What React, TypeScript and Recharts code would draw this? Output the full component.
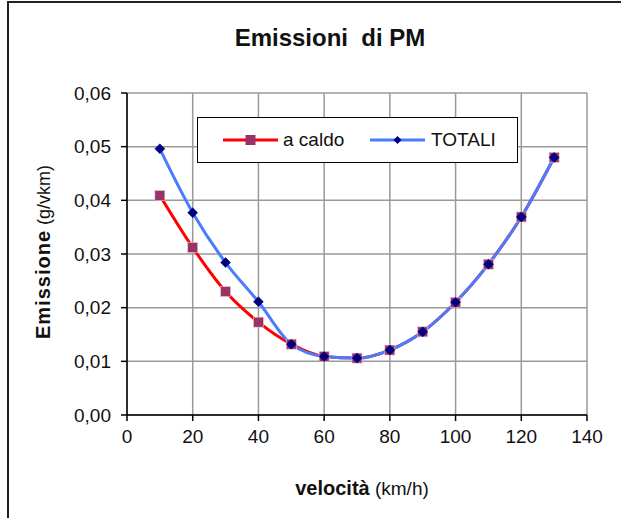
import React from "react";
import { LineChart, Line, XAxis, YAxis, CartesianGrid, Legend } from "recharts";

const speeds = [10, 20, 30, 40, 50, 60, 70, 80, 90, 100, 110, 120, 130];
const aCaldo = [0.0409, 0.0312, 0.023, 0.0173, 0.0132, 0.0109, 0.0106, 0.0121, 0.0155, 0.021, 0.0281, 0.0369, 0.048];
const totali = [0.0496, 0.0377, 0.0284, 0.0211, 0.0132, 0.0109, 0.0106, 0.0121, 0.0155, 0.021, 0.0281, 0.0369, 0.048];
const xTicks = [0, 20, 40, 60, 80, 100, 120, 140];
const yTicks = [0, 0.01, 0.02, 0.03, 0.04, 0.05, 0.06];
const seriesNames = ["a caldo", "TOTALI"];
const titleText = "Emissioni  di PM";
const xTitle = ["velocità", " (km/h)"];
const yTitle = ["Emissione", " (g/vkm)"];

const data = speeds.map((s, i) => ({ v: s, caldo: aCaldo[i], totali: totali[i] }));

const FONT = "'Liberation Sans', Arial, sans-serif";
const RED = "#ff0000";
const PURPLE = "#993366";
const BLUE = "#4a7cff";
const NAVY = "#000080";

const fmt = (v: number) => v.toFixed(2).replace(".", ",");

const SquareDot = (props: any) => {
  const { cx, cy } = props;
  if (cx == null || cy == null) return null;
  return <rect x={cx - 5} y={cy - 5} width={10} height={10} fill={PURPLE} stroke="#e8c8d8" strokeWidth={0.6} />;
};

const DiamondDot = (props: any) => {
  const { cx, cy } = props;
  if (cx == null || cy == null) return null;
  const r = 5;
  return <polygon points={`${cx},${cy - r} ${cx + r},${cy} ${cx},${cy + r} ${cx - r},${cy}`} fill={NAVY} stroke={NAVY} strokeWidth={0.5} />;
};

const XLabel = () => (
  <text x={362} y={495} textAnchor="middle" fontFamily={FONT} fill="#111">
    <tspan fontWeight="bold" fontSize={20}>{xTitle[0]}</tspan>
    <tspan fontSize={19}>{xTitle[1]}</tspan>
  </text>
);

const YLabel = () => (
  <text x={0} y={0} transform="translate(50,252) rotate(-90)" textAnchor="middle" fontFamily={FONT} fill="#111">
    <tspan fontWeight="bold" fontSize={20} letterSpacing={1}>{yTitle[0]}</tspan>
    <tspan fontSize={18}>{yTitle[1]}</tspan>
  </text>
);

const LegendBox = () => (
  <div
    style={{
      position: "relative",
      width: 321,
      height: 46,
      border: "1.5px solid #000",
      boxSizing: "border-box",
      background: "#fff",
      fontFamily: FONT,
      fontSize: 19,
      color: "#111",
    }}
  >
    <div style={{ position: "absolute", left: 25, top: 0, height: 43, display: "flex", alignItems: "center" }}>
      <svg width={55} height={14}>
        <line x1={0} y1={7} x2={55} y2={7} stroke={RED} strokeWidth={3} />
        <rect x={22.5} y={2} width={10} height={10} fill={PURPLE} />
      </svg>
      <span style={{ marginLeft: 5 }}>{seriesNames[0]}</span>
    </div>
    <div style={{ position: "absolute", left: 172, top: 0, height: 43, display: "flex", alignItems: "center" }}>
      <svg width={55} height={14}>
        <line x1={0} y1={7} x2={55} y2={7} stroke={BLUE} strokeWidth={3} />
        <polygon points="27.5,3 31.5,7 27.5,11 23.5,7" fill={NAVY} />
      </svg>
      <span style={{ marginLeft: 6 }}>{seriesNames[1]}</span>
    </div>
  </div>
);

export default function App() {
  return (
    <div style={{ position: "absolute", left: 0, top: 0, width: 621, height: 518, background: "#fff", overflow: "hidden" }}>
      <div style={{ position: "absolute", left: 7, top: 1, width: 700, height: 700, border: "2px solid #222", boxSizing: "border-box" }} />
      <div
        style={{
          position: "absolute",
          left: 0,
          width: 660,
          top: 24,
          textAlign: "center",
          fontFamily: FONT,
          fontWeight: "bold",
          fontSize: 24,
          whiteSpace: "pre",
          color: "#111",
        }}
      >
        {titleText}
      </div>
      <LineChart width={621} height={518} data={data} margin={{ top: 93, right: 34, bottom: 43, left: 0 }}>
        <CartesianGrid stroke="#999" strokeWidth={1.5} />
        <XAxis
          dataKey="v"
          type="number"
          domain={[0, 140]}
          ticks={xTicks}
          height={60}
          tickSize={6}
          tickMargin={9}
          axisLine={{ stroke: "#000", strokeWidth: 1.5 }}
          tickLine={{ stroke: "#000", strokeWidth: 1.5 }}
          tick={{ fill: "#111", fontSize: 19, fontFamily: FONT }}
          label={<XLabel />}
        />
        <YAxis
          type="number"
          domain={[0, 0.06]}
          ticks={yTicks}
          width={127}
          tickSize={6}
          tickMargin={10}
          tickFormatter={fmt}
          axisLine={{ stroke: "#000", strokeWidth: 1.5 }}
          tickLine={{ stroke: "#000", strokeWidth: 1.5 }}
          tick={{ fill: "#111", fontSize: 19, fontFamily: FONT }}
          label={<YLabel />}
        />
        <Legend
          layout="horizontal"
          verticalAlign="middle"
          align="center"
          content={() => <LegendBox />}
          wrapperStyle={{ position: "absolute", left: 197, top: 117, width: 321, height: 46 }}
        />
        <Line
          dataKey="caldo"
          name={seriesNames[0]}
          type="monotone"
          stroke={RED}
          strokeWidth={3}
          dot={<SquareDot />}
          activeDot={false}
          isAnimationActive={false}
        />
        <Line
          dataKey="totali"
          name={seriesNames[1]}
          type="monotone"
          stroke={BLUE}
          strokeWidth={3}
          dot={<DiamondDot />}
          activeDot={false}
          isAnimationActive={false}
        />
      </LineChart>
    </div>
  );
}
